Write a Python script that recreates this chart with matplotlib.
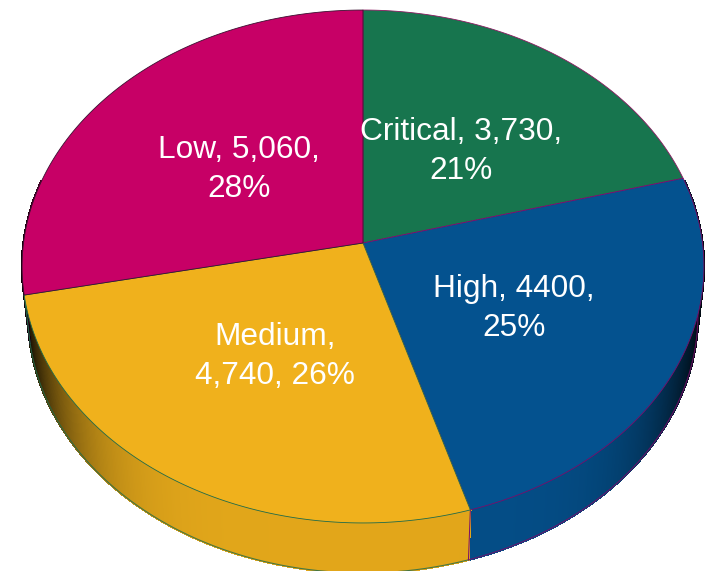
import numpy as np
import matplotlib
matplotlib.use("Agg")
import matplotlib.pyplot as plt
from matplotlib.collections import PolyCollection

plt.rcParams['font.family'] = ['Liberation Sans', 'DejaVu Sans']

categories = ["Critical", "High", "Medium", "Low"]
values = [3730, 4400, 4740, 5060]
labels = ["Critical, 3,730,\n21%", "High, 4400,\n25%", "Medium,\n4,740, 26%", "Low, 5,060,\n28%"]
colors = ["#17754E", "#04528F", "#F0B11C", "#C70066"]
edges = ["#8A1A60", "#7A0C6A", "#1F6B4A", "#3A1030"]
label_pos = [(461, 150), (514, 307), (275, 355), (239, 168)]

APEX = (363.0, 243.0)
K = 0.0916
A, B = 339.5, 254.3
TOP_C = (363.0, 266.5, 341.0, 256.5)
LOW_C = (363.0, 315.0, 335.0, 258.0)


def top_pt(theta):
    x, y = np.sin(theta), np.cos(theta)
    w = 1 + K * y
    return APEX[0] + A * x / w, APEX[1] - B * y / w


def low_pt(theta):
    X, Y = top_pt(theta)
    u = (X - TOP_C[0]) / TOP_C[2]
    v = (Y - TOP_C[1]) / TOP_C[3]
    return LOW_C[0] + LOW_C[2] * u, LOW_C[1] + LOW_C[3] * v


fig = plt.figure(figsize=(7.14, 5.71), dpi=100)
ax = fig.add_axes([0, 0, 1, 1])
ax.set_xlim(0, 714)
ax.set_ylim(571, 0)
ax.axis("off")

fracs = np.array(values) / np.sum(values)
bounds = np.concatenate([[0], np.cumsum(fracs)]) * 2 * np.pi

# side wall
polys, face = [], []
for i, col in enumerate(colors):
    lo, hi = max(bounds[i], np.pi * 0.42), min(bounds[i + 1], np.pi * 1.58)
    if hi <= lo:
        continue
    n = max(2, int((hi - lo) / 0.006))
    ts = np.linspace(lo, hi, n + 1)
    rgb = np.array(matplotlib.colors.to_rgb(col))
    for t0, t1 in zip(ts[:-1], ts[1:]):
        tx0, ty0 = top_pt(t0); tx1, ty1 = top_pt(t1)
        lx0, ly0 = low_pt(t0); lx1, ly1 = low_pt(t1)
        polys.append([(tx0, ty0), (tx1, ty1), (lx1, ly1), (lx0, ly0)])
        c = abs((0.5 * (tx0 + tx1) - TOP_C[0]) / TOP_C[2])
        face.append(rgb * (0.94 - 0.85 * c ** 6))
ax.add_collection(PolyCollection(polys, facecolors=face, edgecolors=face, linewidths=1.0,
                                 antialiaseds=False, zorder=1))

# lower rim and slice seams on the wall
for i in range(4):
    lo, hi = max(bounds[i], np.pi * 0.42), min(bounds[i + 1], np.pi * 1.58)
    if hi > lo:
        ts = np.linspace(lo, hi, 200)
        lx, ly = low_pt(ts)
        ax.plot(lx, ly, color=edges[i], lw=0.8, alpha=0.8, zorder=2)
for i in range(1, 4):
    if np.pi * 0.42 < bounds[i] < np.pi * 1.58:
        tx, ty = top_pt(bounds[i]); lx, ly = low_pt(bounds[i])
        ax.plot([tx, lx], [ty, ly], color=edges[i - 1], lw=0.7, zorder=2)

# top surface
for i, (col, edge) in enumerate(zip(colors, edges)):
    ts = np.linspace(bounds[i], bounds[i + 1], 300)
    x, y = top_pt(ts)
    xs = np.concatenate([[APEX[0]], x])
    ys = np.concatenate([[APEX[1]], y])
    ax.fill(xs, ys, facecolor=col, edgecolor=edge, lw=0.6, joinstyle="round", zorder=3)

for lab, (x, y) in zip(labels, label_pos):
    ax.text(x, y + 1.5, lab, color="white", fontsize=22.8, ha="center", va="center",
            linespacing=1.42, zorder=4)

fig.savefig("out.png", dpi=100)
